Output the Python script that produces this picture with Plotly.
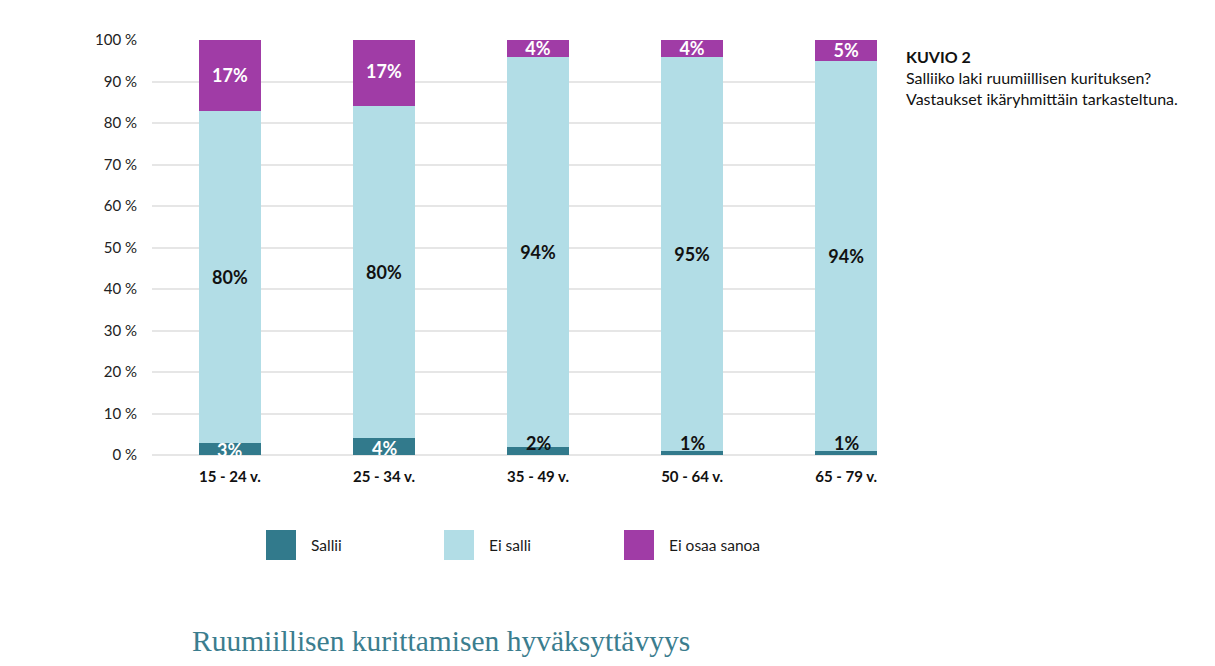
import plotly.graph_objects as go

categories = ["15 - 24 v.", "25 - 34 v.", "35 - 49 v.", "50 - 64 v.", "65 - 79 v."]
sallii = [3, 4, 2, 1, 1]
ei_salli = [80, 80, 94, 95, 94]
ei_osaa = [17, 17, 4, 4, 5]
series_names = ["Sallii", "Ei salli", "Ei osaa sanoa"]
colors = ["#327a8c", "#b2dde6", "#a03ca6"]
y_ticks = [0, 10, 20, 30, 40, 50, 60, 70, 80, 90, 100]

FONT = "Lato"
W, H = 1215, 666
L, R, T, B = 152, 338, 40, 211

fig = go.Figure()

fig.add_bar(x=categories, y=sallii, name=series_names[0], marker_color=colors[0],
            marker_line_width=0, width=0.4, textposition="none")
fig.add_bar(x=categories, y=ei_salli, name=series_names[1], marker_color=colors[1],
            marker_line_width=0, width=0.4,
            text=[f"{v}%" for v in ei_salli], textposition="inside",
            insidetextanchor="middle", constraintext="none",
            textfont=dict(family=FONT, size=18, color="#111111", weight="bold"))
fig.add_bar(x=categories, y=ei_osaa, name=series_names[2], marker_color=colors[2],
            marker_line_width=0, width=0.4,
            text=[f"{v}%" for v in ei_osaa], textposition="inside",
            insidetextanchor="middle", constraintext="none",
            textfont=dict(family=FONT, size=18, color="white", weight="bold"))

# Sallii labels (annotations so small values can sit at the base)
for c, v in zip(categories, sallii):
    if v >= 3:
        fig.add_annotation(x=c, y=v / 2, text=f"<b>{v}%</b>", showarrow=False,
                           yanchor="middle", yshift=-1,
                           font=dict(family=FONT, size=18, color="white"))
    else:
        fig.add_annotation(x=c, y=0, text=f"<b>{v}%</b>", showarrow=False,
                           yanchor="bottom", yshift=-1,
                           font=dict(family=FONT, size=18, color="#111111"))

# Manual legend
leg_x = [266, 444, 624]
for i, nm in enumerate(series_names):
    x0 = leg_x[i]
    fig.add_shape(type="rect", xref="paper", yref="paper",
                  x0=(x0 - L) / (W - L - R), x1=(x0 + 30 - L) / (W - L - R),
                  y0=(H - B - 560) / (H - T - B), y1=(H - B - 530) / (H - T - B),
                  fillcolor=colors[i], line_width=0)
    fig.add_annotation(xref="paper", yref="paper",
                       x=(x0 + 43 - L) / (W - L - R), y=(H - B - 545) / (H - T - B),
                       xanchor="left", yanchor="middle", text=nm, showarrow=False,
                       font=dict(family=FONT, size=15.5, color="#1a1a1a"))

# Right-side caption
fig.add_annotation(xref="paper", yref="paper",
                   x=(904 - L) / (W - L - R), y=(H - B - 45) / (H - T - B),
                   xanchor="left", yanchor="top", align="left", showarrow=False,
                   text="<b>KUVIO 2</b><br>Salliiko laki ruumiillisen kurituksen?<br>Vastaukset ikäryhmittäin tarkasteltuna.",
                   font=dict(family=FONT, size=16, color="#111111"))

# Bottom title
fig.add_annotation(xref="paper", yref="paper",
                   x=(190 - L) / (W - L - R), y=(H - B - 641) / (H - T - B),
                   xanchor="left", yanchor="middle", showarrow=False,
                   text="Ruumiillisen kurittamisen hyväksyttävyys",
                   font=dict(family="Liberation Serif", size=29.5, color="#3b7d8e"))

fig.update_layout(
    barmode="stack",
    width=W, height=H,
    margin=dict(l=L, r=R, t=T, b=B),
    paper_bgcolor="white", plot_bgcolor="white",
    showlegend=False,
    font=dict(family=FONT, size=15, color="#222222"),
)
fig.update_xaxes(type="category", range=[-0.506, 4.2], showgrid=False,
                 showline=False, zeroline=False, ticks="",
                 tickfont=dict(family=FONT, size=15, color="#111111", weight="bold"),
                 ticklabelstandoff=11)
fig.update_yaxes(range=[0, 100], tickvals=y_ticks,
                 ticktext=[f"{v} %" for v in y_ticks],
                 showgrid=True, gridcolor="#e6e6e6", gridwidth=1.5,
                 zeroline=True, zerolinecolor="#e6e6e6", zerolinewidth=1.5,
                 showline=False, ticks="", ticklabelstandoff=14,
                 tickfont=dict(family=FONT, size=15, color="#222222"))

fig.write_html("out.html")
